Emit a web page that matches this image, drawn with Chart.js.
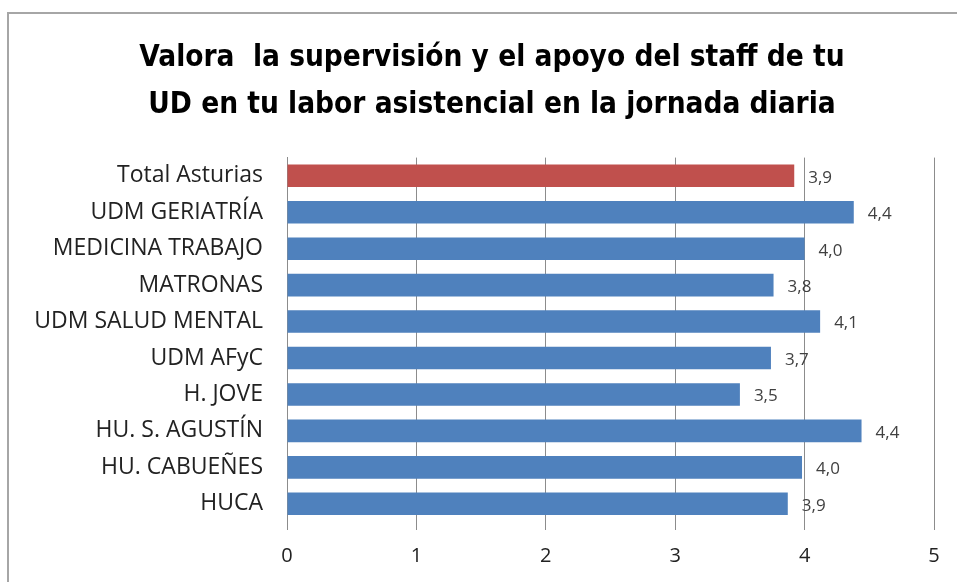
<!DOCTYPE html>
<html><head><meta charset="utf-8">
<script src="https://cdn.jsdelivr.net/npm/chart.js@4.4.1/dist/chart.umd.min.js"></script>
<style>
html,body{margin:0;padding:0;background:#fff;overflow:hidden;width:957px;height:582px;}
#frame{position:absolute;left:7px;top:12px;width:1000px;height:700px;border:2px solid #a6a6a6;box-sizing:border-box;}
#wrap{position:absolute;left:0;top:0;width:957px;height:582px;}
</style></head>
<body>
<div id="frame"></div>
<div id="wrap"><canvas id="c" width="957" height="582"></canvas></div>
<script>
const categories = ["Total Asturias","UDM GERIATRÍA","MEDICINA TRABAJO","MATRONAS","UDM SALUD MENTAL","UDM AFyC","H. JOVE","HU. S. AGUSTÍN","HU. CABUEÑES","HUCA"];
const values = [3.92, 4.38, 4.00, 3.76, 4.12, 3.74, 3.50, 4.44, 3.98, 3.87];
const xTicks = [0,1,2,3,4,5];
const titleLines = ["Valora  la supervisión y el apoyo del staff de tu","UD en tu labor asistencial en la jornada diaria"];
const barColors = categories.map((c,i)=> i===0 ? "#C0504D" : "#4F81BD");

const labelPlugin = {
  id:'vlabels',
  beforeDraw(chart){
    if (chart.titleBlock) chart.titleBlock.left = 50;
  },
  afterDatasetsDraw(chart){
    const ctx = chart.ctx;
    const meta = chart.getDatasetMeta(0);
    ctx.save();
    ctx.font = '17px "Open Sans", sans-serif';
    ctx.fillStyle = '#404040';
    ctx.textBaseline = 'middle';
    ctx.textAlign = 'left';
    meta.data.forEach((bar,i)=>{
      const txt = values[i].toFixed(1).replace('.',',');
      ctx.fillText(txt, bar.x + 14, bar.y + 2);
    });
    ctx.restore();
  }
};

new Chart(document.getElementById('c'), {
  type:'bar',
  data:{labels:categories, datasets:[{data:values, backgroundColor:barColors, borderWidth:0, categoryPercentage:1, barPercentage:0.62}]},
  options:{
    indexAxis:'y', responsive:false, animation:false,
    layout:{padding:{left:20,right:23,top:0,bottom:0}},
    plugins:{
      legend:{display:false}, tooltip:{enabled:false},
      title:{display:true, text:titleLines, color:'#000', font:{family:'"Liberation Sans Narrow","DejaVu Sans Condensed",sans-serif', size:29.5, weight:'bold', lineHeight:1.62}, padding:{top:34,bottom:28}}
    },
    scales:{
      x:{min:0,max:5, afterBuildTicks(s){s.ticks = xTicks.map(v=>({value:v}));},
         grid:{color:'#8c8c8c', lineWidth:1, drawTicks:true, tickLength:8},
         border:{display:false},
         ticks:{color:'#222', padding:14, font:{family:'"Open Sans",sans-serif', size:20}}},
      y:{grid:{display:false}, border:{display:true,color:'#8c8c8c',width:1},
         afterFit(s){s.width = 287-20;},
         ticks:{color:'#222', padding:16, font:{family:'"Open Sans",sans-serif', size:23}}}
    }
  },
  plugins:[labelPlugin]
});
</script>
</body></html>
